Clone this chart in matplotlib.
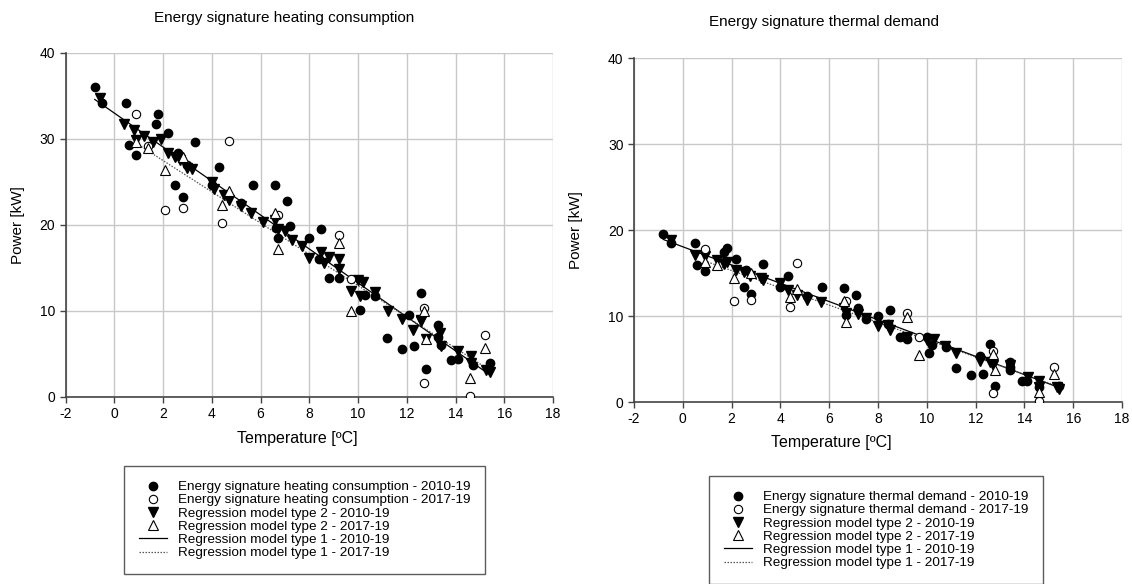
import numpy as np
import matplotlib
matplotlib.use("Agg")
import matplotlib.pyplot as plt
from matplotlib.lines import Line2D

plt.rcParams['font.family'] = ['Liberation Sans', 'DejaVu Sans']
plt.rcParams['axes.unicode_minus'] = False

# ---- Heating consumption (left panel) ----
heat_meas_1019_t = [-0.8, -0.5, 0.5, 0.6, 0.9, 1.7, 1.8, 2.2, 2.5, 2.6, 2.7, 2.8, 3.0, 3.3,
                    4.0, 4.3, 5.2, 5.7, 6.6, 7.1, 6.65, 6.7, 7.2, 8.0, 8.5, 8.4, 8.8, 9.2,
                    10.1, 10.3, 10.7, 11.2, 11.8, 12.1, 12.3, 12.6, 12.8, 13.3, 13.3, 13.4,
                    13.8, 14.1, 14.7, 15.4]
heat_meas_1019_p = [36.1, 34.2, 34.2, 29.3, 28.1, 31.8, 32.9, 30.7, 24.7, 28.4, 28.0, 23.2, 27.0, 29.6,
                    24.7, 26.8, 22.6, 24.7, 24.6, 22.8, 19.6, 18.5, 19.9, 18.5, 19.5, 16.1, 13.8, 13.8,
                    10.1, 11.9, 11.7, 6.9, 5.6, 9.5, 5.9, 12.1, 3.3, 8.4, 7.0, 6.1,
                    4.3, 4.4, 3.7, 3.9]

heat_meas_1719_t = [0.9, 1.4, 2.1, 2.8, 4.4, 4.7, 6.7, 9.2, 9.7, 12.7, 12.7, 14.6, 15.2]
heat_meas_1719_p = [32.9, 29.2, 21.7, 22.0, 20.2, 29.8, 21.2, 18.8, 13.7, 10.4, 1.6, 0.1, 7.2]

heat_m2_1019_t = [-0.6, 0.4, 0.8, 0.9, 1.2, 1.6, 1.9, 2.2, 2.5, 2.7, 3.0, 3.2, 4.0, 4.1, 4.5,
                  4.7, 5.2, 5.6, 6.1, 6.6, 6.7, 7.0, 7.3, 7.7, 8.0, 8.5, 8.6, 8.8, 9.2, 9.2,
                  9.7, 10.0, 10.2, 10.1, 10.7, 11.25, 11.8, 12.25, 12.6, 12.6, 12.8, 13.35,
                  13.4, 14.1, 14.65, 14.65, 15.25, 15.4]
heat_m2_1019_p = [34.8, 31.8, 31.0, 29.9, 30.4, 29.6, 30.0, 28.4, 27.9, 27.6, 26.6, 26.5, 25.0, 24.2, 23.5,
                  22.9, 22.2, 21.4, 20.3, 20.6, 19.5, 19.3, 18.3, 17.6, 16.2, 16.9, 15.6, 16.3, 14.9, 16.0,
                  12.3, 13.6, 13.4, 11.8, 12.2, 10.0, 9.1, 7.8, 9.0, 8.8, 6.7, 7.4,
                  5.9, 5.3, 4.8, 3.9, 3.1, 2.9]

heat_m2_1719_t = [0.9, 1.4, 2.1, 2.8, 4.4, 4.7, 6.6, 6.7, 9.2, 9.7, 12.7, 12.8, 14.6, 15.2]
heat_m2_1719_p = [29.7, 29.0, 26.4, 27.9, 22.3, 24.0, 21.4, 17.2, 17.9, 10.0, 10.0, 6.8, 2.2, 5.7]

heat_m1_1019_t = [-0.8, 15.4]
heat_m1_1019_p = [34.6, 2.6]
heat_m1_1719_t = [0.9, 15.2]
heat_m1_1719_p = [29.5, 3.5]

# ---- Thermal demand (right panel) ----
dem_meas_1019_t = [-0.8, -0.5, 0.5, 0.6, 0.9, 1.7, 1.8, 2.2, 2.5, 2.6, 2.8, 3.3, 4.0, 4.3,
                   5.1, 5.7, 6.6, 7.1, 7.2, 6.7, 7.5, 8.0, 8.5, 8.4, 8.9, 9.2, 10.0, 10.1,
                   10.2, 10.8, 11.2, 11.8, 12.2, 12.3, 12.6, 12.8, 13.4, 13.4, 13.4, 13.9,
                   14.1, 14.6, 15.4]
dem_meas_1019_p = [19.5, 18.5, 18.5, 15.9, 15.2, 17.4, 17.9, 16.6, 13.4, 15.3, 12.6, 16.1, 13.4, 14.6,
                   12.3, 13.4, 13.3, 12.4, 10.9, 10.1, 9.7, 10.0, 10.7, 9.1, 7.6, 7.3, 7.6, 5.7,
                   6.6, 6.4, 3.9, 3.1, 5.3, 3.3, 6.7, 1.9, 4.7, 4.1, 3.7, 2.4,
                   2.4, 1.8, 1.9]

dem_meas_1719_t = [0.9, 2.1, 2.8, 4.4, 4.7, 6.7, 9.2, 9.7, 12.7, 12.7, 14.6, 15.2]
dem_meas_1719_p = [17.8, 11.8, 11.9, 11.0, 16.2, 11.7, 10.3, 7.6, 5.9, 1.0, 0.1, 4.1]

dem_m2_1019_t = [-0.5, 0.5, 0.9, 1.4, 1.7, 1.8, 2.2, 2.5, 2.75, 3.2, 3.3, 4.0, 4.3, 4.7, 5.1,
                 5.65, 6.6, 6.7, 7.2, 7.5, 8.0, 8.4, 8.5, 9.2, 10.0, 10.3, 10.75, 11.2,
                 12.2, 12.6, 12.7, 13.4, 14.15, 14.6, 14.6, 15.35, 15.4]
dem_m2_1019_p = [18.8, 17.1, 17.0, 16.5, 16.1, 16.3, 15.3, 15.1, 14.7, 14.4, 14.2, 13.8, 13.0, 12.5, 11.9,
                 11.6, 10.9, 10.4, 10.2, 9.8, 8.8, 9.0, 8.4, 7.6, 7.2, 7.3, 6.5, 5.7,
                 4.8, 4.7, 4.3, 4.3, 2.9, 2.5, 1.7, 1.7, 1.5]

dem_m2_1719_t = [0.9, 1.4, 2.1, 2.8, 4.4, 4.7, 6.6, 6.7, 9.2, 9.7, 12.7, 12.8, 14.6, 15.2]
dem_m2_1719_p = [16.3, 15.9, 14.4, 15.0, 12.2, 13.1, 11.7, 9.3, 9.9, 5.5, 5.6, 3.7, 1.2, 3.3]

dem_m1_1019_t = [-0.8, 15.4]
dem_m1_1019_p = [18.9, 1.7]
dem_m1_1719_t = [0.9, 15.2]
dem_m1_1719_p = [16.4, 2.0]

x_ticks = list(range(-2, 19, 2))
y_ticks = [0, 10, 20, 30, 40]

W, H = 1132, 584


def fx(px):
    return px / W


def fy(py):
    return 1 - py / H


def draw_panel(ax, meas1, meas2, m2a, m2b, l1, l2):
    """Scatter the measured / modelled points and the two regression lines."""
    ax.plot(l1[0], l1[1], color='black', lw=0.9, zorder=3)
    ax.plot(l2[0], l2[1], color='#555555', lw=0.9, ls=(0, (1.2, 1.2)), zorder=3)
    ax.plot(meas1[0], meas1[1], 'o', ms=6, color='black', zorder=4)
    ax.plot(meas2[0], meas2[1], 'o', ms=6, mfc='white', mec='black', mew=0.8, zorder=5)
    ax.plot(m2a[0], m2a[1], 'v', ms=6.5, color='black', zorder=4)
    ax.plot(m2b[0], m2b[1], '^', ms=6.5, mfc='white', mec='black', mew=0.8, zorder=5)

    ax.set_xlim(-2, 18)
    ax.set_ylim(0, 40)
    ax.set_xticks(x_ticks)
    ax.set_yticks(y_ticks)
    ax.grid(True, color='#c8c8c8', lw=1.0)
    ax.set_axisbelow(True)
    for s in ['top', 'right']:
        ax.spines[s].set_visible(False)
    for s in ['left', 'bottom']:
        ax.spines[s].set_color('#444444')
        ax.spines[s].set_linewidth(1.2)
    ax.tick_params(colors='#444444', labelcolor='black', labelsize=10, length=4, width=1.0)


def add_legend(fig, name, x0, y0):
    handles = [
        Line2D([], [], ls='none', marker='o', ms=6, color='black'),
        Line2D([], [], ls='none', marker='o', ms=6, mfc='white', mec='black', mew=0.8),
        Line2D([], [], ls='none', marker='v', ms=6.5, color='black'),
        Line2D([], [], ls='none', marker='^', ms=6.5, mfc='white', mec='black', mew=0.8),
        Line2D([], [], color='black', lw=0.9),
        Line2D([], [], color='#555555', lw=0.9, ls=(0, (1.2, 1.2))),
    ]
    labels = [name + ' - 2010-19', name + ' - 2017-19',
              'Regression model type 2 - 2010-19', 'Regression model type 2 - 2017-19',
              'Regression model type 1 - 2010-19', 'Regression model type 1 - 2017-19']
    leg = fig.legend(handles, labels, loc='upper left', bbox_to_anchor=(fx(x0), fy(y0)),
                     fontsize=9.7, frameon=True, fancybox=False, edgecolor='#333333',
                     handlelength=2.1, handletextpad=0.8, labelspacing=0.06,
                     borderpad=1.1, borderaxespad=0)
    leg.get_frame().set_linewidth(1.0)


def main():
    fig = plt.figure(figsize=(W / 100, H / 100), dpi=100)

    ax1 = fig.add_axes([fx(65.5), fy(397), fx(553 - 65.5), (397 - 53) / H])
    ax2 = fig.add_axes([fx(634), fy(402), fx(1122 - 634), (402 - 58) / H])

    draw_panel(ax1, (heat_meas_1019_t, heat_meas_1019_p), (heat_meas_1719_t, heat_meas_1719_p),
               (heat_m2_1019_t, heat_m2_1019_p), (heat_m2_1719_t, heat_m2_1719_p),
               (heat_m1_1019_t, heat_m1_1019_p), (heat_m1_1719_t, heat_m1_1719_p))
    draw_panel(ax2, (dem_meas_1019_t, dem_meas_1019_p), (dem_meas_1719_t, dem_meas_1719_p),
               (dem_m2_1019_t, dem_m2_1019_p), (dem_m2_1719_t, dem_m2_1719_p),
               (dem_m1_1019_t, dem_m1_1019_p), (dem_m1_1719_t, dem_m1_1719_p))

    # titles and axis labels placed in figure pixels
    fig.text(fx(284), fy(18), 'Energy signature heating consumption', ha='center', va='center', fontsize=11)
    fig.text(fx(824), fy(22), 'Energy signature thermal demand', ha='center', va='center', fontsize=11)
    fig.text(fx(297), fy(438), 'Temperature [ºC]', ha='center', va='center', fontsize=11.5)
    fig.text(fx(831), fy(443), 'Temperature [ºC]', ha='center', va='center', fontsize=11.5)
    fig.text(fx(18), fy(225), 'Power [kW]', ha='center', va='center', rotation=90, fontsize=11)
    fig.text(fx(576), fy(230), 'Power [kW]', ha='center', va='center', rotation=90, fontsize=11)

    add_legend(fig, 'Energy signature heating consumption', 124, 466)
    add_legend(fig, 'Energy signature thermal demand', 709, 476)

    fig.savefig('out.png', dpi=100)


if __name__ == '__main__':
    main()
